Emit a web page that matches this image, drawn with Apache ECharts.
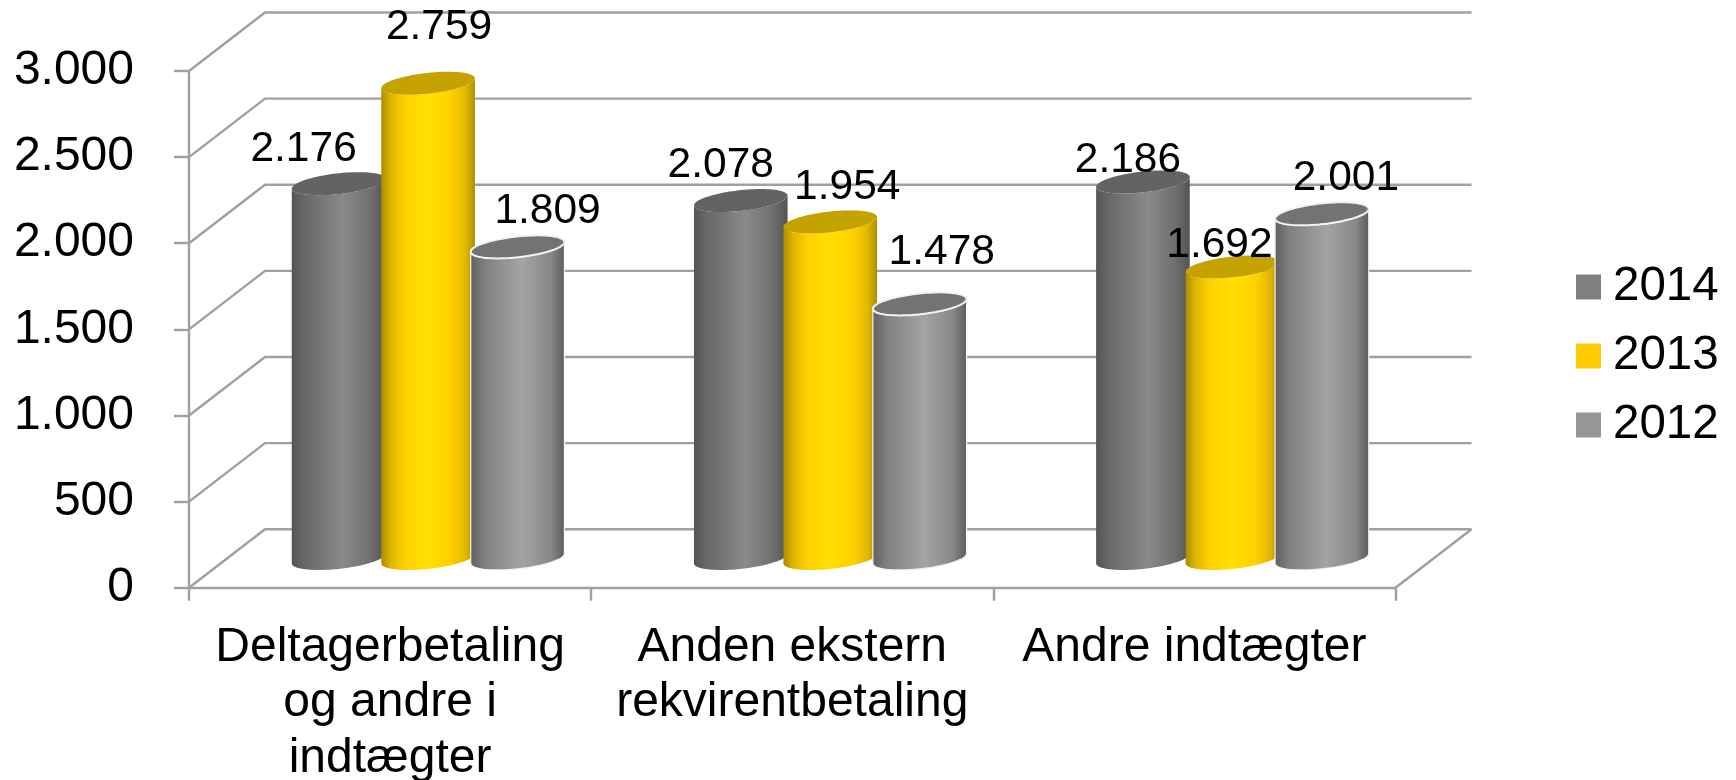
<!DOCTYPE html>
<html>
<head>
<meta charset="utf-8">
<style>html,body{margin:0;padding:0;background:#fff}#c{width:1736px;height:780px}</style>
<script src="https://cdn.jsdelivr.net/npm/echarts@6/dist/echarts.min.js"></script>
</head>
<body>
<div id="c"></div>
<script>
const categories = ['Deltagerbetaling\nog andre i\nindtægter', 'Anden ekstern\nrekvirentbetaling', 'Andre indtægter'];
const tickValues = [0, 500, 1000, 1500, 2000, 2500, 3000];
const values2014 = [2176, 2078, 2186];
const values2013 = [2759, 1954, 1692];
const values2012 = [1809, 1478, 2001];

// Hand placed label nudges of the original, in pixels from the top of each cylinder
const nudges2014 = [[-35, -34.5], [-20, -35], [-15, -21.5]];
const nudges2013 = [[11, -56], [17, -34.5], [-13, -21.5]];
const nudges2012 = [[30, -36], [22, -52], [24, -36]];

const FONT = '"Liberation Sans", Arial, sans-serif';
const DEPTH_X = 76, DEPTH_Y = 58.5;
const WALL = '#a0a0a0';
const TILT = 5.7 * Math.PI / 180;
const PITCH = 0.2225, HALF = 0.117, RATIO = 0.225;
const G = (stops) => new echarts.graphic.LinearGradient(0, 0, 1, 0, stops.map((c, i) => ({offset: c[0], color: c[1]})));

const looks = [
  {name: '2014', legend: '#808080', top: '#636363', values: values2014, nudges: nudges2014, rim: null,
   body: [[0, '#555555'], [0.12, '#666666'], [0.55, '#8a8a8a'], [0.85, '#6e6e6e'], [1, '#535353']]},
  {name: '2013', legend: '#ffcc00', top: '#c4a300', values: values2013, nudges: nudges2013, rim: null,
   body: [[0, '#ab8d00'], [0.1, '#dcb400'], [0.25, '#ffd000'], [0.5, '#ffe000'], [0.75, '#ffd000'], [0.9, '#e0b800'], [1, '#ad9000']]},
  {name: '2012', legend: '#969696', top: '#737373', values: values2012, nudges: nudges2012, rim: '#f2f2f2',
   body: [[0, '#5f5f5f'], [0.15, '#7f7f7f'], [0.55, '#a4a4a4'], [0.85, '#888888'], [1, '#5a5a5a']]}
];

function ellipsePoint(cx, cy, a, b, t) {
  const c = Math.cos(t), s = Math.sin(t);
  return [cx + a * c * Math.cos(TILT) - b * s * Math.sin(TILT),
          cy - a * c * Math.sin(TILT) + b * s * Math.cos(TILT)];
}

function cylinderItem(look, idx) {
  return function (params, api) {
    const cat = api.value(0), val = api.value(1);
    const band = api.size([1, 0])[0];
    const topPt = api.coord([cat, val]), basePt = api.coord([cat, 0]);
    const cx = topPt[0] + DEPTH_X / 2 + (idx - 1) * band * PITCH;
    const yTop = topPt[1] - DEPTH_Y / 2, yBase = basePt[1] - DEPTH_Y / 2;
    const a = band * HALF, b = a * RATIO;
    // parameter values where the tilted ellipse reaches its left and right extremes
    const t0 = Math.atan2(-b * Math.sin(TILT), a * Math.cos(TILT));
    const N = 48, body = [], cap = [];
    // lower rim of the base: right extreme -> left extreme through the bottom
    for (let i = 0; i <= N; i++) body.push(ellipsePoint(cx, yBase, a, b, t0 + Math.PI * i / N));
    // up the left side and along the front rim of the top back to the right side
    for (let i = N; i >= 0; i--) body.push(ellipsePoint(cx, yTop, a, b, t0 + Math.PI * i / N));
    for (let i = 0; i < 2 * N; i++) cap.push(ellipsePoint(cx, yTop, a, b, Math.PI * i / N));
    const rim = look.rim;
    return {
      type: 'group',
      children: [
        {type: 'polygon', shape: {points: body}, silent: true,
         style: {fill: G(look.body), stroke: rim || null, lineWidth: rim ? 1.2 : 0}},
        {type: 'polygon', shape: {points: cap}, silent: true,
         style: {fill: look.top, stroke: rim || null, lineWidth: rim ? 2 : 0}}
      ]
    };
  };
}

function wallItem(params, api) {
  const v = api.value(1);
  const band = api.size([1, 0])[0];
  const p = api.coord([0, v]);
  const left = p[0] - band / 2, right = left + band * categories.length, y = p[1];
  const children = [{
    type: 'polyline', silent: true,
    shape: {points: [[left, y], [left + DEPTH_X, y - DEPTH_Y], [right + DEPTH_X, y - DEPTH_Y]]},
    style: {stroke: WALL, lineWidth: 2.4, fill: null}
  }];
  if (v === 0) children.push({
    type: 'line', silent: true,
    shape: {x1: right, y1: y, x2: right + DEPTH_X, y2: y - DEPTH_Y},
    style: {stroke: WALL, lineWidth: 2.4}
  });
  return {type: 'group', children};
}

function labelItem(params, api) {
  const cat = api.value(0), val = api.value(1), idx = api.value(2);
  const band = api.size([1, 0])[0];
  const p = api.coord([cat, val]);
  const n = looks[idx].nudges[cat];
  return {
    type: 'text', silent: true,
    x: p[0] + DEPTH_X / 2 + (idx - 1) * band * PITCH + n[0],
    y: p[1] - DEPTH_Y / 2 + n[1],
    style: {text: (val / 1000).toFixed(3), fill: '#000', font: '42.5px ' + FONT, align: 'center', verticalAlign: 'middle'}
  };
}

const labelRows = [];
looks.forEach((l, i) => l.values.forEach((v, c) => labelRows.push([c, v, i])));

const option = {
  animation: false,
  backgroundColor: '#fff',
  textStyle: {fontFamily: FONT},
  grid: {left: 189, top: 71, width: 1206.5, height: 516.7, containLabel: false, outerBoundsMode: 'none'},
  legend: {
    orient: 'vertical', left: 1571, top: 258, icon: 'rect',
    itemWidth: 25, itemHeight: 25, itemGap: 21, selectedMode: false,
    data: looks.map(l => l.name),
    textStyle: {fontSize: 47.5, color: '#000', fontFamily: FONT, lineHeight: 48, padding: [0, 0, 0, 7]}
  },
  xAxis: {
    type: 'category', data: categories,
    axisLine: {show: true, lineStyle: {color: WALL, width: 2.4}},
    axisTick: {show: true, length: 13, alignWithLabel: false, lineStyle: {color: WALL, width: 2.4}},
    axisLabel: {color: '#000', fontSize: 48, lineHeight: 55.5, margin: 32, interval: 0, fontFamily: FONT, hideOverlap: false},
    splitLine: {show: false}
  },
  yAxis: {
    type: 'value', min: 0, max: 3000, interval: 500,
    axisLine: {show: true, lineStyle: {color: WALL, width: 2.4}},
    axisTick: {show: true, length: 15, lineStyle: {color: WALL, width: 2.4}},
    axisLabel: {color: '#000', fontSize: 48, margin: 55, fontFamily: FONT, padding: [4, 0, 0, 0],
      formatter: v => v < 1000 ? String(v) : (v / 1000).toFixed(3)},
    splitLine: {show: false}
  },
  series: [
    {type: 'custom', name: 'wall', z: 1, renderItem: wallItem, encode: {x: 0, y: 1},
     data: tickValues.map(v => [0, v])}
  ].concat(looks.map((l, i) => ({
    type: 'custom', name: l.name, z: 2 + i, renderItem: cylinderItem(l, i),
    itemStyle: {color: l.legend}, encode: {x: 0, y: 1},
    data: l.values.map((v, c) => [c, v])
  }))).concat([
    {type: 'custom', name: 'labels', z: 10, renderItem: labelItem, encode: {x: 0, y: 1}, data: labelRows}
  ])
};
echarts.init(document.getElementById('c'), null, {renderer: 'canvas'}).setOption(option);
</script>
</body>
</html>
